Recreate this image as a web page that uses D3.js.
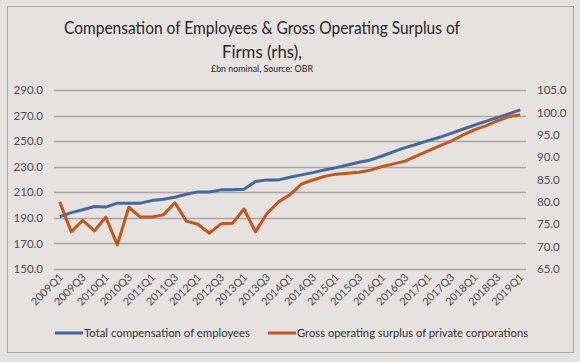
<!DOCTYPE html>
<html><head><meta charset="utf-8">
<script src="https://cdn.jsdelivr.net/npm/d3@7"></script>
<style>html,body{margin:0;padding:0;background:#e5e2df;}svg{display:block;}</style>
</head><body>
<script>
const quarters = [];
for (let y = 2009; y <= 2019; y++) for (let q = 1; q <= 4; q++) { if (y === 2019 && q > 1) break; quarters.push(y + "Q" + q); }
const compensation = [191.0,194.1,196.3,198.9,198.4,201.5,201.5,201.5,203.5,204.6,206.1,208.5,210.3,210.3,211.9,211.9,212.4,218.4,219.7,219.7,221.8,223.6,225.4,227.5,229.3,231.4,233.5,235.3,238.4,241.8,244.9,247.6,250.4,253.0,256.1,259.3,262.4,265.5,268.4,271.3,274.4];
const surplus = [80.0,73.3,75.9,73.5,76.6,70.4,78.8,76.6,76.6,77.1,79.8,75.7,75.0,73.0,75.1,75.2,78.4,73.3,77.4,80.0,81.6,84.0,84.9,85.7,86.2,86.4,86.6,87.1,87.9,88.5,89.1,90.3,91.4,92.5,93.6,94.9,96.1,97.0,98.1,99.0,99.5];
const leftTicks = [150,170,190,210,230,250,270,290];
const rightTicks = [65,70,75,80,85,90,95,100,105];
const seriesNames = ["Total compensation of employees","Gross operating surplus of private corporations"];
const titleLines = ["Compensation of Employees & Gross Operating Surplus of","Firms (rhs),"];
const subtitle = "£bn nominal, Source: OBR";

const W = 580, H = 362;
const m = {left:54, right:526, top:90, bottom:269};
const blue = "#41699c", orange = "#c5561c";
const font = "Lato, 'Open Sans', sans-serif";

const svg = d3.select("body").append("svg").attr("width", W).attr("height", H);
svg.append("rect").attr("width", W).attr("height", H).attr("fill", "#e5e2df");
svg.append("rect").attr("x", 7.5).attr("y", 6.5).attr("width", 566).attr("height", 346)
  .attr("fill", "#e5e2df").attr("stroke", "#aaa7a4").attr("stroke-width", 1);

const x = d3.scaleBand().domain(quarters).range([m.left, m.right]);
const yL = d3.scaleLinear().domain([150, 290]).range([m.bottom, m.top]);
const yR = d3.scaleLinear().domain([65, 105]).range([m.bottom, m.top]);
const cx = d => x(d) + x.bandwidth() / 2;

function fit(sel, width) {
  sel.each(function() {
    const len = this.getComputedTextLength();
    if (len > width) d3.select(this).attr("textLength", width).attr("lengthAdjust", "spacingAndGlyphs");
  });
}

// gridlines
svg.append("g").selectAll("line").data(leftTicks).join("line")
  .attr("x1", m.left).attr("x2", m.right)
  .attr("y1", d => Math.round(yL(d)) + 0.5).attr("y2", d => Math.round(yL(d)) + 0.5)
  .attr("stroke", "#a9a7a5").attr("stroke-width", 1.3);

// axes
const axL = svg.append("g").attr("transform", `translate(${m.left - 11},0)`)
  .call(d3.axisLeft(yL).tickValues(leftTicks).tickFormat(d3.format(".1f")).tickSize(0).tickPadding(0));
axL.select(".domain").remove();
axL.selectAll("text").attr("font-family", font).attr("font-size", 11.5).attr("fill", "#4d4d4d");

const axR = svg.append("g").attr("transform", `translate(${m.right + 11},0)`)
  .call(d3.axisRight(yR).tickValues(rightTicks).tickFormat(d3.format(".1f")).tickSize(0).tickPadding(0));
axR.select(".domain").remove();
axR.selectAll("text").attr("font-family", font).attr("font-size", 11.5).attr("fill", "#4d4d4d");

// x labels
svg.append("g").selectAll("text").data(quarters.filter((d, i) => i % 2 === 0)).join("text")
  .attr("transform", d => `translate(${cx(d) + 4},${m.bottom + 9}) rotate(-45)`)
  .attr("text-anchor", "end").attr("font-family", font).attr("font-size", 10.8).attr("fill", "#4d4d4d")
  .text(d => d);

// lines
const lineL = d3.line().x((d, i) => cx(quarters[i])).y(d => yL(d));
const lineR = d3.line().x((d, i) => cx(quarters[i])).y(d => yR(d));
svg.append("path").datum(compensation).attr("d", lineL).attr("fill", "none")
  .attr("stroke", blue).attr("stroke-width", 3).attr("stroke-linejoin", "round");
svg.append("path").datum(surplus).attr("d", lineR).attr("fill", "none")
  .attr("stroke", orange).attr("stroke-width", 3).attr("stroke-linejoin", "round");

// title
svg.append("g").selectAll("text").data(titleLines).join("text")
  .attr("x", 262).attr("y", (d, i) => 34 + i * 24).attr("text-anchor", "middle")
  .attr("font-family", font).attr("font-size", 16.8).attr("fill", "#262626").text(d => d)
  .call(fit, 396);
svg.append("text").attr("x", 262).attr("y", 72).attr("text-anchor", "middle")
  .attr("font-family", font).attr("font-size", 9.5).attr("fill", "#262626").text(subtitle)
  .call(fit, 102);

// legend
const legend = [{x:55, color:blue, name:seriesNames[0], w:166}, {x:268, color:orange, name:seriesNames[1], w:231}];
const lg = svg.append("g").selectAll("g").data(legend).join("g");
lg.append("line").attr("x1", d => d.x).attr("x2", d => d.x + 28).attr("y1", 333).attr("y2", 333)
  .attr("stroke", d => d.color).attr("stroke-width", 3);
lg.append("text").attr("x", d => d.x + 29).attr("y", 337)
  .attr("font-family", font).attr("font-size", 11.5).attr("fill", "#333").text(d => d.name)
  .each(function(d) { fit(d3.select(this), d.w); });
</script>
</body></html>
